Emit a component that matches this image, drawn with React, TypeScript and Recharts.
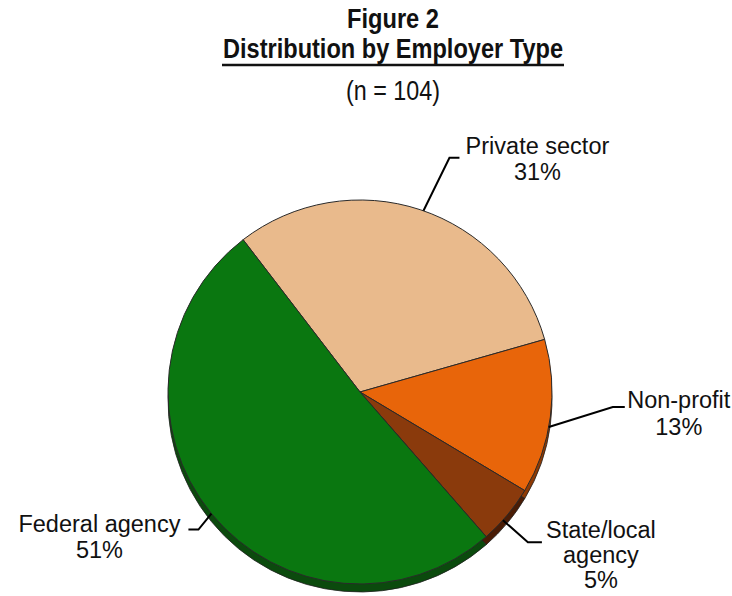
import { PieChart, Pie, Cell } from 'recharts';

const categories = ['Private sector', 'Non-profit', 'State/local agency', 'Federal agency'];
const shares = [31, 13, 5, 51];
const sliceColors = ['#E9BA8C', '#E8650A', '#8A3A0C', '#0A7710'];
const depthColors = ['#9C6E45', '#8E3A04', '#4A1C05', '#0B4A0D'];

const titleLines = ['Figure 2', 'Distribution by Employer Type', '(n = 104)'];

const data = categories.map((name, i) => ({ name, value: shares[i] }));

const RADIAN = Math.PI / 180;
const labelFont = "'Liberation Sans', Arial, sans-serif";

// leader line anchor/elbow + text placement, relative to the point on the rim
const labelLayout: Record<
  string,
  { da: number; ex: number; ey: number; hx: number; tx: number; ty: number; lh: number; lines: string[] }
> = {
  'Private sector': { da: -1, ex: 26, ey: -53, hx: 10, tx: 114, ty: -57, lh: 26, lines: ['Private sector'] },
  'Non-profit': { da: -3, ex: 64, ey: -20, hx: 12, tx: 130, ty: -19, lh: 27, lines: ['Non-profit'] },
  'State/local agency': { da: -2, ex: 25, ey: 22, hx: 14, tx: 98, ty: 18, lh: 25, lines: ['State/local', 'agency'] },
  'Federal agency': { da: 0, ex: -13, ey: 16, hx: -10, tx: -112, ty: 18, lh: 26, lines: ['Federal agency'] },
};

const renderLabel = (props: any) => {
  const { cx, cy, midAngle, outerRadius, name, value } = props;
  const lay = labelLayout[name];
  if (!lay) return null;
  const a = (midAngle + lay.da) * RADIAN;
  const sx = cx + outerRadius * Math.cos(-a);
  const sy = cy + outerRadius * Math.sin(-a);
  const ex = sx + lay.ex;
  const ey = sy + lay.ey;
  const hx = ex + lay.hx;
  const lines = [...lay.lines, `${value}%`];
  return (
    <g>
      <polyline points={`${sx},${sy} ${ex},${ey} ${hx},${ey}`} fill="none" stroke="#000" strokeWidth={2} />
      <text x={sx + lay.tx} y={sy + lay.ty} textAnchor="middle" fontFamily={labelFont} fontSize={23.5} fill="#111">
        {lines.map((l, i) => (
          <tspan key={i} x={sx + lay.tx} dy={i === 0 ? 0 : lay.lh}>
            {l}
          </tspan>
        ))}
      </text>
    </g>
  );
};

function Title() {
  const cx = 393;
  return (
    <svg width={732} height={120} style={{ position: 'absolute', left: 0, top: 0 }}>
      <g fontFamily={labelFont} fill="#111" textAnchor="middle">
        <text x={cx} y={28} fontSize={28} fontWeight="bold" textLength={92} lengthAdjust="spacingAndGlyphs">
          {titleLines[0]}
        </text>
        <text x={cx} y={58} fontSize={28} fontWeight="bold" textLength={340} lengthAdjust="spacingAndGlyphs">
          {titleLines[1]}
        </text>
        <line x1={cx - 171} x2={cx + 171} y1={65} y2={65} stroke="#111" strokeWidth={2.5} />
        <text x={cx} y={100} fontSize={28} textLength={94} lengthAdjust="spacingAndGlyphs">
          {titleLines[2]}
        </text>
      </g>
    </svg>
  );
}

export default function App() {
  return (
    <div style={{ position: 'absolute', left: 0, top: 0, width: 732, height: 596, background: '#fff' }}>
      <div style={{ position: 'absolute', left: 0, top: 0 }}>
        <PieChart width={732} height={596}>
          <Pie
            data={data}
            dataKey="value"
            nameKey="name"
            cx={355}
            cy={395}
            outerRadius={192}
            startAngle={127.5}
            endAngle={-232.5}
            stroke="#1f1f1f"
            strokeWidth={0.8}
            isAnimationActive={false}
          >
            {data.map((d, i) => (
              <Cell key={d.name} fill={depthColors[i]} />
            ))}
          </Pie>
          <Pie
            data={data}
            dataKey="value"
            nameKey="name"
            cx={355}
            cy={387}
            outerRadius={192}
            startAngle={127.5}
            endAngle={-232.5}
            stroke="#2a2a2a"
            strokeWidth={1}
            label={renderLabel}
            labelLine={false}
            isAnimationActive={false}
          >
            {data.map((d, i) => (
              <Cell key={d.name} fill={sliceColors[i]} />
            ))}
          </Pie>
        </PieChart>
      </div>
      <Title />
    </div>
  );
}
